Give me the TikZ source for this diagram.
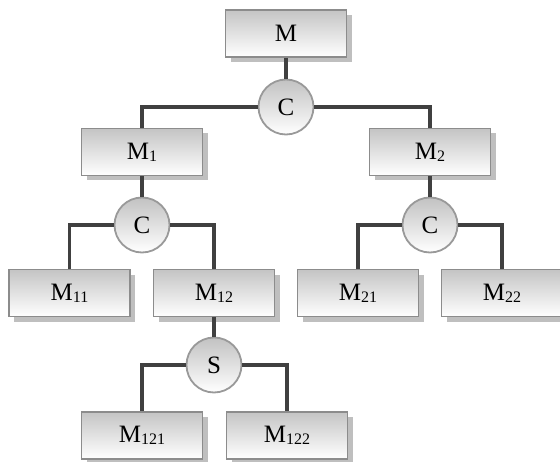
\documentclass[tikz,border=0pt]{standalone}
\usepackage{fontspec}
\setmainfont{Liberation Serif}
\usetikzlibrary{shadows}
\newcommand{\idx}[1]{\raisebox{-2bp}{\fontsize{16bp}{16bp}\selectfont #1}}
\begin{document}
\begin{tikzpicture}[x=1bp, y=-1bp,
  font=\fontsize{25bp}{30bp}\selectfont,
  module/.style={draw=black!45, line width=1.8bp, top color=black!23, bottom color=white,
    minimum width=121bp, minimum height=47bp, inner sep=0pt,
    drop shadow={shadow xshift=5bp, shadow yshift=-5bp, fill=black!25, opacity=1}},
  combine/.style={circle, draw=black!40, line width=1.8bp, top color=black!24, bottom color=white,
    minimum size=55bp, inner sep=0pt},
  link/.style={draw=black!75, line width=3.5bp}]
\useasboundingbox (0,0) rectangle (560,462);
% modules
\node[module] (M) at (286,33.5) {M};
\node[module] (M1) at (142,152) {M\idx{1}};
\node[module] (M2) at (430,152) {M\idx{2}};
\node[module] (M11) at (69.5,293) {M\idx{11}};
\node[module] (M12) at (214,293) {M\idx{12}};
\node[module] (M21) at (358,293) {M\idx{21}};
\node[module] (M22) at (502,293) {M\idx{22}};
\node[module] (M121) at (142,435.5) {M\idx{121}};
\node[module] (M122) at (287,435.5) {M\idx{122}};
% connectors
\node[combine] (C) at (286,107) {C};
\node[combine] (C1) at (142,225) {C};
\node[combine] (C2) at (430,225) {C};
\node[combine] (S) at (214,365) {S};
\draw[link] (M) -- (C);
\draw[link] (C) -| (M1);
\draw[link] (C) -| (M2);
\draw[link] (M1) -- (C1);
\draw[link] (C1) -| (M11);
\draw[link] (C1) -| (M12);
\draw[link] (M2) -- (C2);
\draw[link] (C2) -| (M21);
\draw[link] (C2) -| (M22);
\draw[link] (M12) -- (S);
\draw[link] (S) -| (M121);
\draw[link] (S) -| (M122);
\end{tikzpicture}
\end{document}
